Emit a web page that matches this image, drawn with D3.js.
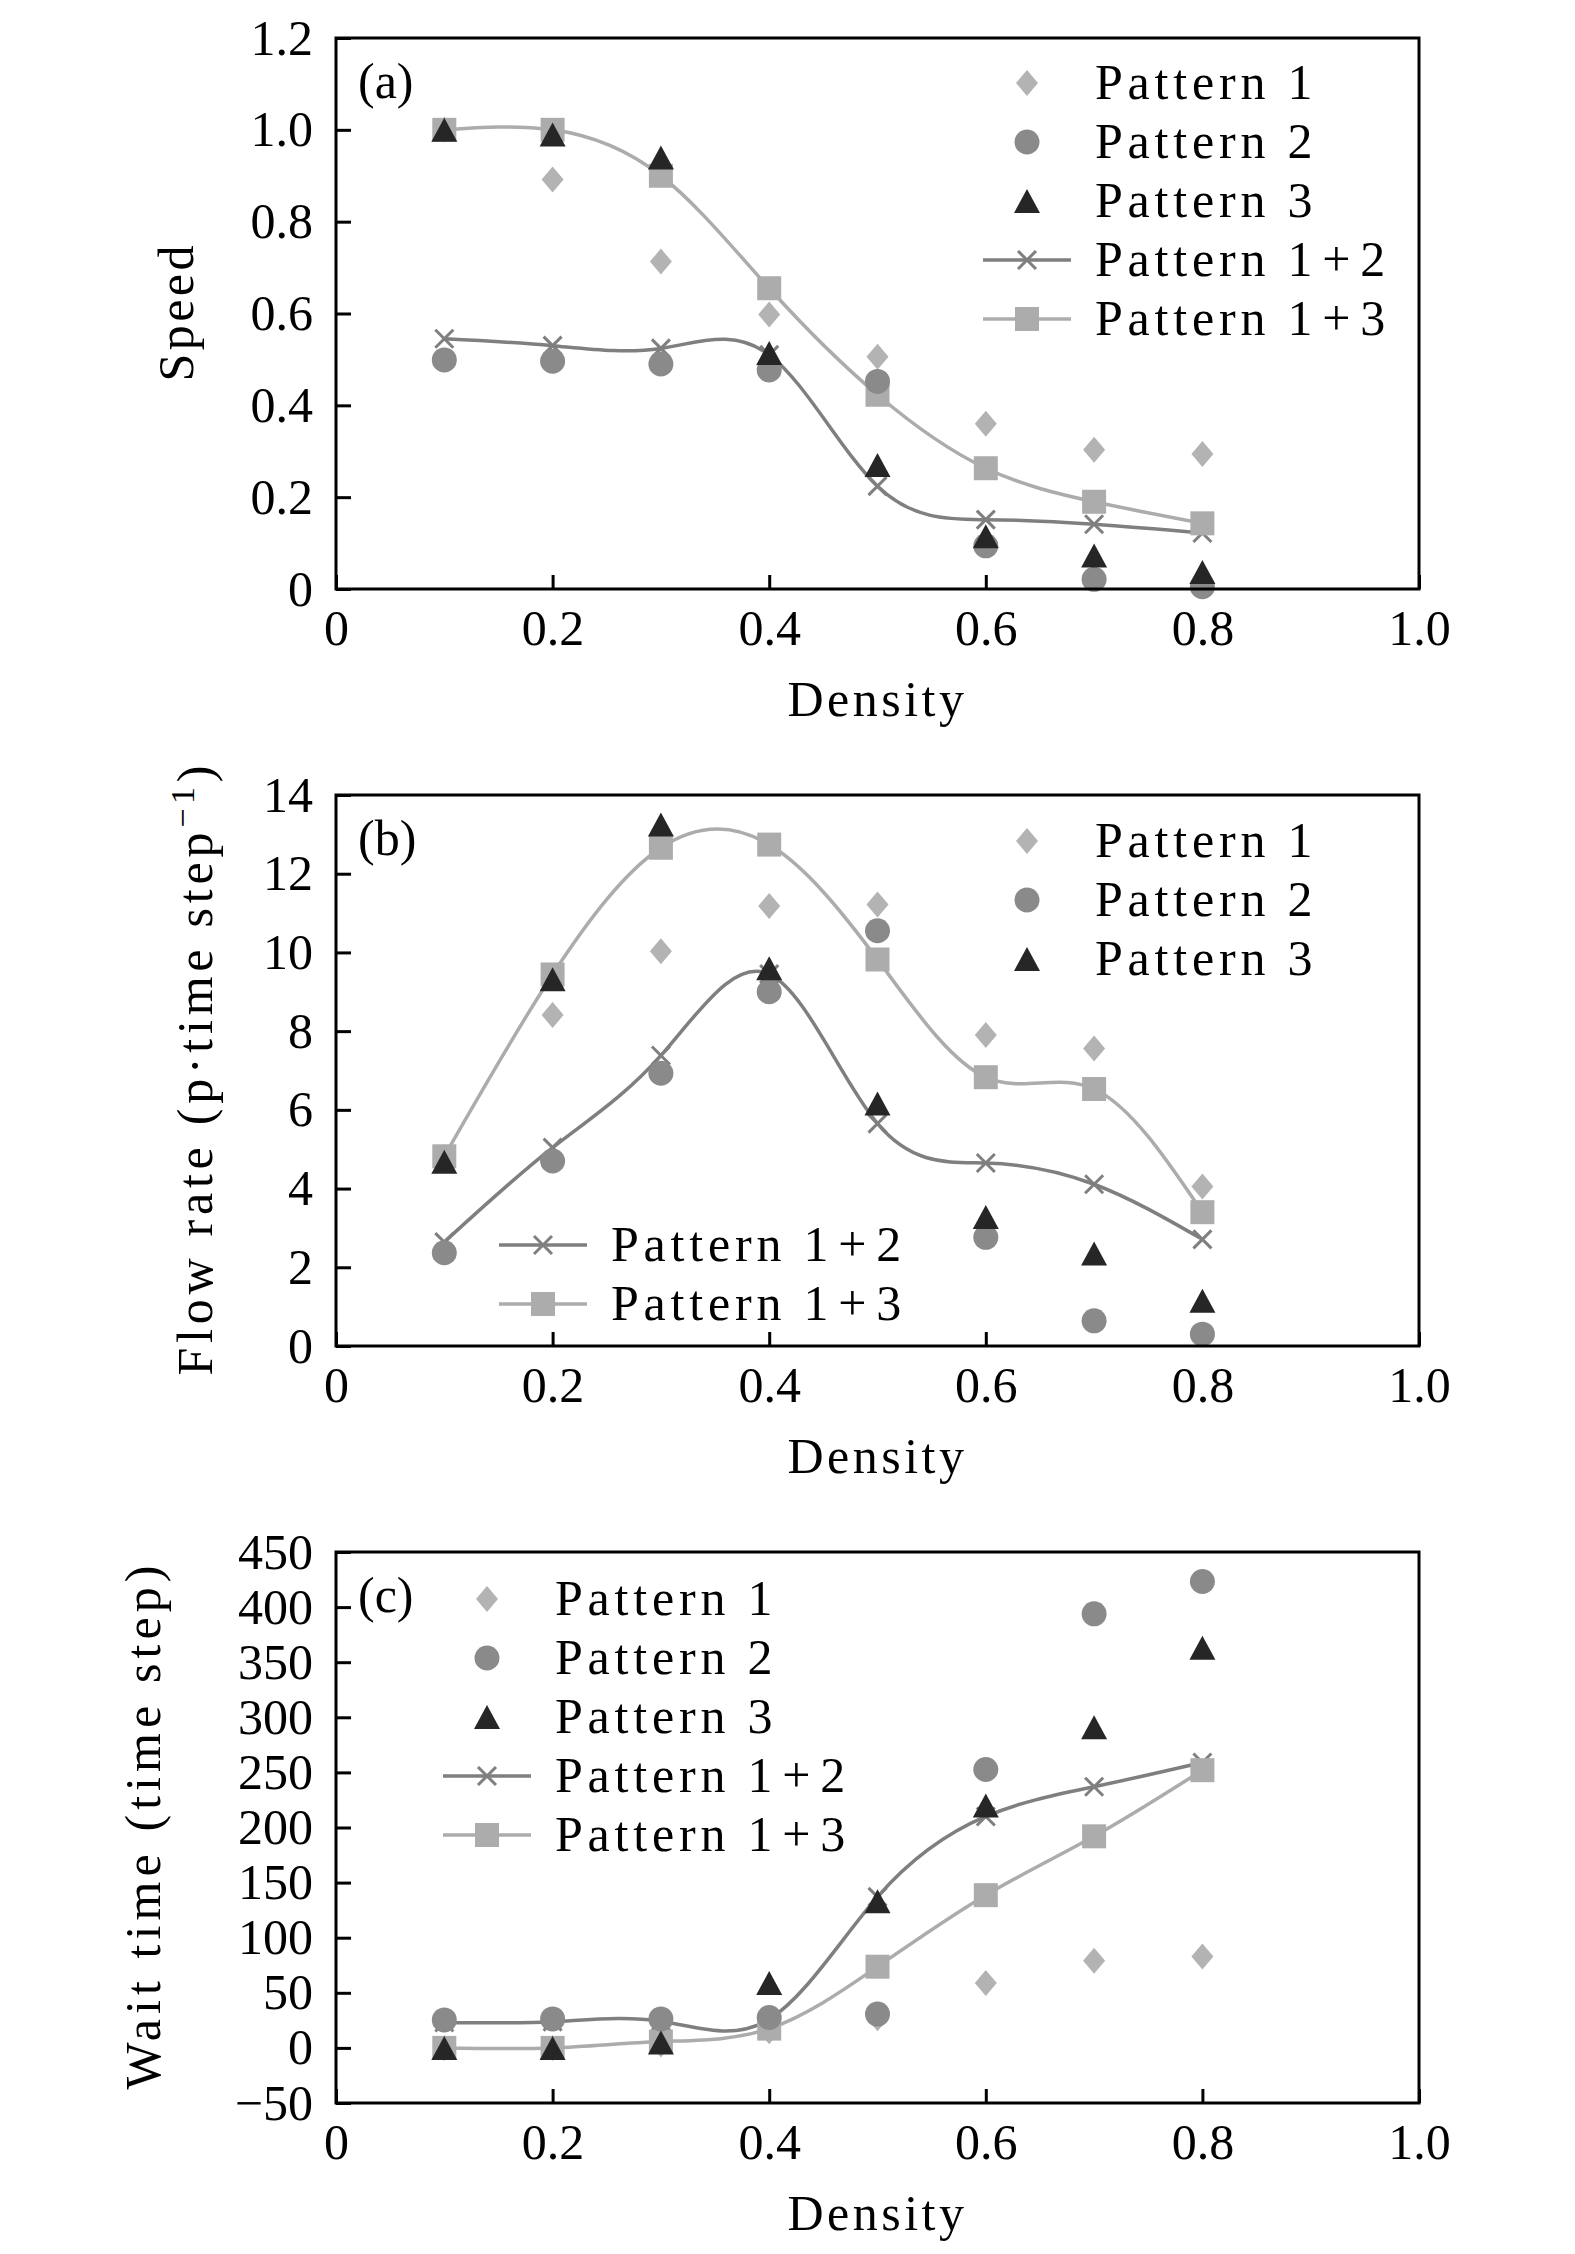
<!DOCTYPE html>
<html>
<head>
<meta charset="utf-8">
<script src="https://cdn.jsdelivr.net/npm/d3@7"></script>
<style>
  body { margin: 0; background: #fff; }
  text { font-family: "Liberation Serif", "Times New Roman", serif; fill: #000; }
</style>
</head>
<body>
<script>
// data
const density = [0.1, 0.2, 0.3, 0.4, 0.5, 0.6, 0.7, 0.8];
const xTicks = [0, 0.2, 0.4, 0.6, 0.8, 1.0];

// (a) speed
const speedP1 = [1.0, 0.892, 0.713, 0.598, 0.506, 0.360, 0.303, 0.294];
const speedP2 = [0.499, 0.496, 0.490, 0.477, 0.452, 0.094, 0.021, 0.005];
const speedP3 = [1.0, 0.99, 0.94, 0.514, 0.27, 0.115, 0.073, 0.037];
const speedP12 = [0.545, 0.530, 0.524, 0.51, 0.224, 0.151, 0.141, 0.122];
const speedP13 = [1.0, 1.0, 0.9, 0.655, 0.423, 0.263, 0.19, 0.143];
const speedTicks = [0, 0.2, 0.4, 0.6, 0.8, 1.0, 1.2];

// (b) flow rate
const flowP1 = [4.8, 8.41, 10.03, 11.18, 11.22, 7.9, 7.56, 4.05];
const flowP2 = [2.37, 4.70, 6.93, 9.0, 10.55, 2.76, 0.64, 0.30];
const flowP3 = [4.68, 9.32, 13.25, 9.6, 6.16, 3.28, 2.35, 1.15];
const flowP12 = [2.64, 5.04, 7.38, 9.45, 5.65, 4.65, 4.11, 2.71];
const flowP13 = [4.82, 9.44, 12.66, 12.74, 9.82, 6.83, 6.53, 3.40];
const flowTicks = [0, 2, 4, 6, 8, 10, 12, 14];

// (c) wait time
const waitP1 = [0, 0, 3, 15, 27, 59, 79, 83];
const waitP2 = [25.4, 26.3, 26.3, 27.6, 30.7, 252.6, 393.9, 423.2];
const waitP3 = [0, 0, 5, 59, 133, 220, 291, 363];
const waitP12 = [23, 23.8, 24.2, 26, 137, 210, 237, 259];
const waitP13 = [0, 0, 5.7, 17.5, 73.7, 138.6, 192, 252];
const waitTicks = [-50, 0, 50, 100, 150, 200, 250, 300, 350, 400, 450];

const seriesNames = ["Pattern 1", "Pattern 2", "Pattern 3", "Pattern 1+2", "Pattern 1+3"];

// marker shapes
const diamond = { draw(c) { c.moveTo(0, -13); c.lineTo(11, 0); c.lineTo(0, 13); c.lineTo(-11, 0); c.closePath(); } };
const triangle = { draw(c) { c.moveTo(0, -12); c.lineTo(13, 12); c.lineTo(-13, 12); c.closePath(); } };
const square = { draw(c) { c.rect(-12, -12, 24, 24); } };
const circle = { draw(c) { c.moveTo(12.5, 0); c.arc(0, 0, 12.5, 0, 2 * Math.PI); } };
const cross = { draw(c) { c.moveTo(-9, -9); c.lineTo(9, 9); c.moveTo(-9, 9); c.lineTo(9, -9); } };

const styles = {
  "Pattern 1": { shape: diamond, fill: "#b3b3b3", line: false },
  "Pattern 2": { shape: circle, fill: "#8a8a8a", line: false },
  "Pattern 3": { shape: triangle, fill: "#262626", line: false },
  "Pattern 1+2": { shape: cross, stroke: "#7f7f7f", line: true },
  "Pattern 1+3": { shape: square, fill: "#acacac", line: true }
};
// draw order (bottom to top)
const drawOrder = ["Pattern 1", "Pattern 1+2", "Pattern 1+3", "Pattern 2", "Pattern 3"];

const margin = { left: 336 };
const width = 1083, height = 551;

const svg = d3.select("body").append("svg")
  .attr("width", 1575)
  .attr("height", 2254);

const x = d3.scaleLinear().domain([0, 1]).range([0, width]);

function marker(sel, name) {
  const st = styles[name];
  sel.append("path")
    .attr("d", d3.symbol().type(st.shape)())
    .attr("fill", st.fill || "none")
    .attr("stroke", st.stroke || "none")
    .attr("stroke-width", st.stroke ? 3 : 0);
}

function drawPanel(p) {
  const g = svg.append("g").attr("transform", "translate(" + margin.left + "," + p.top + ")");
  const y = d3.scaleLinear().domain(p.domain).range([height, 0]);

  const xAxis = d3.axisBottom(x)
    .tickValues(xTicks)
    .tickSize(-14)
    .tickPadding(20)
    .tickFormat(d => d === 0 ? "0" : d3.format(".1f")(d));
  const yAxis = d3.axisLeft(y)
    .tickValues(p.ticks)
    .tickSize(-15)
    .tickPadding(23)
    .tickFormat(p.format);

  const gx = g.append("g").attr("transform", "translate(0," + height + ")").call(xAxis);
  const gy = g.append("g").call(yAxis);
  [gx, gy].forEach(a => {
    a.select(".domain").remove();
    a.selectAll("line").attr("stroke", "#000").attr("stroke-width", 3);
    a.selectAll("text").attr("font-size", 50).attr("font-family", "Liberation Serif").attr("fill", "#000");
  });

  // series
  const line = d3.line()
    .x((d, i) => x(density[i]))
    .y(d => y(d))
    .curve(d3.curveNatural);

  ["Pattern 1+3", "Pattern 1+2"].forEach(name => {
    const st = styles[name];
    g.append("path")
      .attr("d", line(p.series[name]))
      .attr("fill", "none")
      .attr("stroke", st.stroke || st.fill)
      .attr("stroke-width", 3.5);
  });

  drawOrder.forEach(name => {
    g.append("g").selectAll("g")
      .data(p.series[name])
      .enter()
      .append("g")
      .attr("transform", (d, i) => "translate(" + x(density[i]) + "," + y(d) + ")")
      .each(function() { marker(d3.select(this), name); });
  });

  // frame
  g.append("rect")
    .attr("width", width)
    .attr("height", height)
    .attr("fill", "none")
    .attr("stroke", "#000")
    .attr("stroke-width", 3);

  // panel tag
  g.append("text")
    .attr("x", 22)
    .attr("y", 60)
    .attr("font-size", 50)
    .text(p.tag);

  // x label
  g.append("text")
    .attr("x", width / 2)
    .attr("y", height + 127)
    .attr("text-anchor", "middle")
    .attr("font-size", 50)
    .attr("letter-spacing", 3.5)
    .text("Density");

  // y label
  const yl = svg.append("text")
    .attr("transform", "translate(" + p.ylabX + "," + (p.top + height / 2) + ") rotate(-90)")
    .attr("text-anchor", "middle")
    .attr("font-size", 50)
    .attr("textLength", p.ylabLen)
    .attr("lengthAdjust", "spacing");
  p.ylab(yl);

  // legends
  p.legends.forEach(lg => {
    lg.names.forEach((name, i) => {
      const st = styles[name];
      const row = svg.append("g")
        .attr("transform", "translate(" + lg.x + "," + (lg.y + i * 59) + ")");
      if (st.line) {
        row.append("line")
          .attr("x1", -44).attr("x2", 44)
          .attr("stroke", st.stroke || st.fill)
          .attr("stroke-width", 3.5);
      }
      marker(row, name);
      const t = row.append("text")
        .attr("x", lg.textDx)
        .attr("y", 16)
        .attr("font-size", 50)
        .attr("letter-spacing", 4.8);
      // wider spacing round "+" as in the typeset original
      const parts = name.split("+");
      t.append("tspan").text(parts[0]);
      if (parts.length > 1) {
        t.append("tspan").attr("dx", 5).text("+");
        t.append("tspan").attr("dx", 5).text(parts[1]);
      }
    });
  });
}

const panels = [
  {
    tag: "(a)", top: 38, domain: [0, 1.2], ticks: speedTicks,
    format: d => d === 0 ? "0" : d3.format(".1f")(d),
    series: { "Pattern 1": speedP1, "Pattern 2": speedP2, "Pattern 3": speedP3, "Pattern 1+2": speedP12, "Pattern 1+3": speedP13 },
    ylabX: 193, ylabLen: 136,
    ylab: t => t.text("Speed"),
    legends: [{ names: seriesNames, x: 1027, y: 83, textDx: 68 }]
  },
  {
    tag: "(b)", top: 795, domain: [0, 14], ticks: flowTicks,
    format: d3.format("d"),
    series: { "Pattern 1": flowP1, "Pattern 2": flowP2, "Pattern 3": flowP3, "Pattern 1+2": flowP12, "Pattern 1+3": flowP13 },
    ylabX: 212, ylabLen: 610,
    ylab: t => {
      t.append("tspan").text("Flow rate (p·time step");
      t.append("tspan").attr("baseline-shift", "super").attr("font-size", 34).text("−1");
      t.append("tspan").text(")");
    },
    legends: [
      { names: seriesNames.slice(0, 3), x: 1027, y: 841, textDx: 68 },
      { names: seriesNames.slice(3), x: 543, y: 1245, textDx: 68 }
    ]
  },
  {
    tag: "(c)", top: 1552, domain: [-50, 450], ticks: waitTicks,
    format: d3.format("d"),
    series: { "Pattern 1": waitP1, "Pattern 2": waitP2, "Pattern 3": waitP3, "Pattern 1+2": waitP12, "Pattern 1+3": waitP13 },
    ylabX: 160, ylabLen: 524,
    ylab: t => t.text("Wait time (time step)"),
    legends: [{ names: seriesNames, x: 487, y: 1599, textDx: 68 }]
  }
];

panels.forEach(drawPanel);
</script>
</body>
</html>
